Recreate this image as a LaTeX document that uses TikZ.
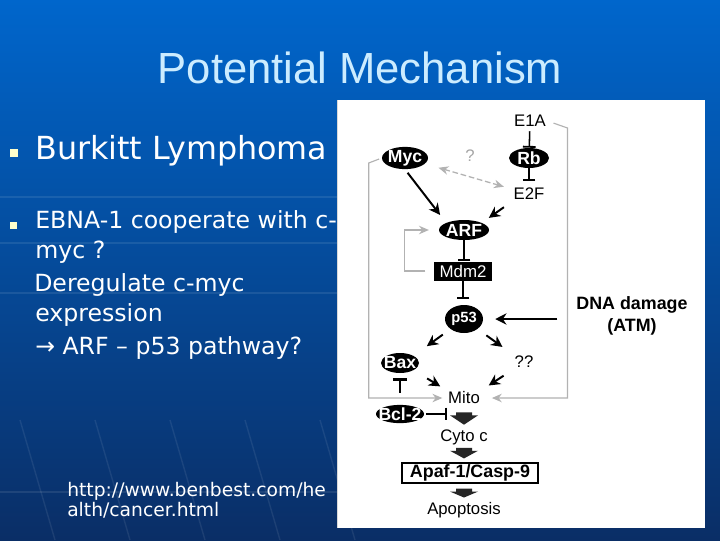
\documentclass[tikz,border=0pt]{standalone}
\usepackage{fontspec}
\setmainfont{Liberation Sans}
\newfontfamily\verd{DejaVu Sans}
\usetikzlibrary{arrows.meta,positioning,shapes.geometric,calc}

\definecolor{slidetop}{RGB}{0,102,204}
\definecolor{slidemid}{RGB}{6,84,172}
\definecolor{slidebot}{RGB}{10,46,102}
\definecolor{titleblue}{RGB}{204,236,255}
\definecolor{bulletyel}{RGB}{255,255,204}
\definecolor{loopgray}{RGB}{178,178,178}

\begin{document}
\begin{tikzpicture}[x=0.025cm, y=-0.025cm,
    mol/.style={ellipse, fill=black, text=white, inner ysep=0pt, inner xsep=-2pt,
                font=\bfseries\fontsize{12.5}{13}\selectfont},
    lbl/.style={inner sep=1pt, font=\fontsize{11.9}{13}\selectfont},
    act/.style={draw=black, line width=1.4pt, -{Stealth[length=8pt, width=8pt]}},
    inh/.style={draw=black, line width=1.1pt, -{Bar[width=9pt, line width=1.3pt]}},
    fb/.style={draw=loopgray, line width=0.8pt, -{Stealth[length=7pt, width=6pt]}},
    dbl/.style={draw=loopgray, line width=0.9pt, dash pattern=on 4pt off 2pt,
                {Stealth[length=7pt, width=6pt]}-{Stealth[length=7pt, width=6pt]}},
    blk/.style={fill=black!85, to path={
        (\tikztostart) -- ++(8,0) -- ++(0,3) -- ++(6,0) -- (\tikztotarget)
        -- ($(\tikztostart)+(-14,3)$) -- ++(6,0) -- ++(0,-3) -- cycle}},
    bul/.style={fill=bulletyel, inner sep=0pt},
    slide/.style={text=white, anchor=base west, inner sep=0pt},
  ]
  \useasboundingbox (0,0) rectangle (720,540);
  \shade[top color=slidetop, middle color=slidemid, bottom color=slidebot]
    (0,0) rectangle (720,540);
  % faint background lines
  \foreach \yy in {197,243,293,492}
    \draw[white, opacity=0.09, line width=1pt] (0,\yy) -- (337,\yy);
  \foreach \xx in {20,95,170,245,320}
    \draw[white, opacity=0.08, line width=1pt] (\xx,420) -- (\xx+35,540);

  % title and bullets
  \node[text=titleblue, font=\fontsize{31}{36}\selectfont] (title) at (360,68) {Potential Mechanism};
  \node[bul, minimum size=0.2cm] (b1) at (14,153) {};
  \node[bul, minimum size=0.175cm] (b2) at (13.5,225.5) {};
  \node[slide, font=\verd\fontsize{22.6}{27}\selectfont] (burkitt) at (35,159) {Burkitt Lymphoma};
  \node[slide, font=\verd\fontsize{16.8}{20}\selectfont] (ebna) at (35,228) {EBNA-1 cooperate with c-};
  \node[slide, font=\verd\fontsize{16.8}{20}\selectfont] (myctxt) at (35,258) {myc ?};
  \node[slide, font=\verd\fontsize{16.8}{20}\selectfont] (dereg) at (34,291) {Deregulate c-myc};
  \node[slide, font=\verd\fontsize{16.8}{20}\selectfont] (expr) at (35,321) {expression};
  \node[slide, font=\verd\fontsize{16.8}{20}\selectfont] (path) at (35,354) {→ ARF – p53 pathway?};
  \node[slide, font=\verd\fontsize{13.3}{15}\selectfont] (url1) at (67,496) {http://www.benbest.com/he};
  \node[slide, font=\verd\fontsize{13.3}{15}\selectfont] (url2) at (67,516) {alth/cancer.html};

  % figure panel
  \fill[white] (337,100) rectangle (705,528);
  \draw[gray!30, line width=0.6pt] (337.5,100) -- (337.5,528);

  \node[lbl] (e1a) at (530,121) {E1A};
  \node[mol, minimum width=1.0cm, minimum height=0.5cm] (rb) at (529,158) {Rb};
  \node[lbl] (e2f) at (529,194) {E2F};
  \node[mol, minimum width=1.15cm, minimum height=0.55cm] (myc) at (405,158) {Myc};
  \node[lbl, text=gray!70] (q) at (470,156) {?};
  \node[mol, minimum width=1.25cm, minimum height=0.5cm] (arf) at (464,230) {ARF};
  \node[fill=black, text=white, inner sep=0pt, minimum width=1.45cm, minimum height=0.475cm,
        font=\fontsize{12}{12}\selectfont] (mdm2) at (463,271) {Mdm2};
  \node[mol, inner xsep=0pt, minimum width=0.95cm, minimum height=0.7cm,
        font=\bfseries\fontsize{10.5}{11}\selectfont] (p53) at (464,319) {p53};
  \node[lbl, align=center, font=\bfseries\fontsize{12.7}{15.6}\selectfont] (dna) at (632,316) {DNA damage\\(ATM)};
  \node[mol, minimum width=0.95cm, minimum height=0.5cm] (bax) at (400,363) {Bax};
  \node[lbl] (qq) at (524,362) {??};
  \node[lbl] (mito) at (464,398) {Mito};
  \node[mol, minimum width=1.2cm, minimum height=0.45cm, inner xsep=-4pt] (bcl2) at (400,414) {Bcl-2};
  \node[lbl] (cyto) at (464,437) {Cyto c};
  \node[draw=black, line width=0.8pt, inner sep=0pt, minimum width=3.4cm, minimum height=0.5cm,
        font=\bfseries\fontsize{12.7}{13}\selectfont] (apaf) at (470,473) {Apaf-1/Casp-9};
  \node[lbl] (apop) at (464,510) {Apoptosis};

  % ends of the block arrows
  \coordinate (mitoout) at ($(mito.south)+(0,6.5)$);
  \coordinate (cytoin) at ($(cyto.north)+(0,-3)$);
  \coordinate (cytoout) at ($(cyto.south)+(0,1.5)$);
  \coordinate (apafin) at ($(apaf.north -| cyto.north)+(0,-4)$);
  \coordinate (apafout) at ($(apaf.south -| apop.north)+(0,5)$);
  \coordinate (apopin) at ($(apop.north)+(0,-3)$);

  % inhibitions
  \draw[inh, shorten <=2pt] (e1a) -- (rb);
  \draw[inh, shorten >=4pt] (rb) -- (e2f);
  \draw[inh] (arf.south) -- (arf.south |- mdm2.north);
  \draw[inh, shorten >=4pt] (mdm2.south) -- (mdm2.south |- p53.north);
  \draw[inh, line width=2pt, -{Bar[width=10pt, line width=2pt]}, shorten <=8.5pt, shorten >=3.5pt] (bcl2) -- (bax);
  \draw[inh, shorten <=1.5pt] (bcl2.east) -- (bcl2.east -| mito.west);

  % activations
  \draw[dbl, shorten <=10pt, shorten >=6pt] (myc) -- (e2f);
  \draw[act, shorten <=3pt, shorten >=7pt] (myc.south) -- (arf.north west);
  \draw[act, shorten <=7pt, shorten >=6pt] (e2f.south west) -- (arf.north east);
  \draw[act, shorten <=12.4pt, shorten >=8.5pt] (dna.west |- p53) -- (p53);
  \draw[act, shorten <=6.6pt, shorten >=11.6pt] (p53.south west) -- (bax.north east);
  \draw[act, shorten <=7.6pt, shorten >=9.2pt] (p53.south east) -- (qq.north west);
  \draw[act, shorten <=11.2pt, shorten >=5.2pt] (bax.south east) -- (mito.north west);
  \draw[act, shorten <=8pt, shorten >=6.1pt] (qq.south west) -- (mito.north east);

  % gray loops
  \draw[fb, shorten <=6pt, shorten >=7pt] (mdm2.west) -- ++(-29,0) |- (arf.west);
  \draw[fb, shorten <=2pt, shorten >=3pt] (myc.west) -- ++(-13,5) |- (mito.west);
  \draw[fb, shorten <=4.5pt, shorten >=7.4pt] (e1a.east) -- ++(20,7) |- (mito.east);

  % block arrows
  \path[blk] (mitoout) to (cytoin);
  \path[blk] (cytoout) to (apafin);
  \path[blk] (apafout) to (apopin);
\end{tikzpicture}
\end{document}
